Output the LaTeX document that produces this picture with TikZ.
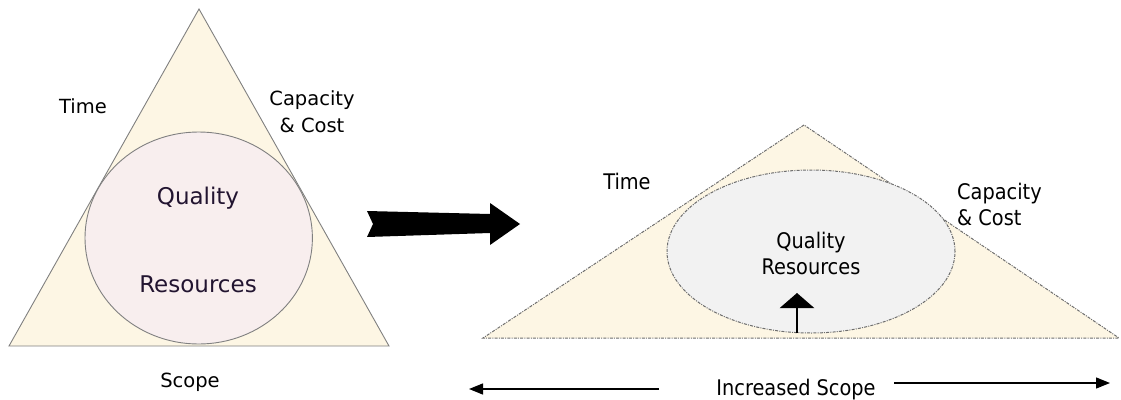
\documentclass[tikz,border=0pt]{standalone}
\usepackage{fontspec}
\setmainfont{DejaVu Sans}
\newfontfamily\condfont{DejaVu Sans Condensed}
\usetikzlibrary{arrows.meta}

\definecolor{cream}{RGB}{253,246,228}
\definecolor{blush}{RGB}{248,238,238}
\definecolor{mist}{RGB}{242,242,242}
\definecolor{edgegray}{RGB}{128,128,128}
\definecolor{dotgray}{RGB}{110,110,110}
\definecolor{ink}{RGB}{34,20,48}

\tikzset{
    solidedge/.style={draw=edgegray, line width=0.9pt},
    dashdot/.style={draw=dotgray, line width=1pt,
        dash pattern=on 3pt off 1.2pt on 1pt off 1.2pt},
    leftlabel/.style={font=\fontsize{19.5}{27}\selectfont, align=center, inner sep=0pt},
    innerlabel/.style={font=\fontsize{23}{27}\selectfont, text=ink, inner sep=0pt},
    rightlabel/.style={font=\condfont\fontsize{21.5}{26}\selectfont, inner sep=0pt},
}

\begin{document}
\begin{tikzpicture}[x=1pt, y=-1pt]
    \useasboundingbox (0,0) rectangle (1121,399);

    % the fixed triangle
    \coordinate (Ltop) at (199,9);
    \coordinate (Lleft) at (9,346);
    \coordinate (Lright) at (389,346);
    \fill[cream] (Ltop) -- (Lleft) -- (Lright) -- cycle;
    \draw[solidedge] (Ltop) -- (Lleft) -- (Lright) -- cycle;
    \filldraw[fill=blush, solidedge] (198.7,238) ellipse (113.7pt and 106pt);

    \node[leftlabel, anchor=base] (timeL) at (83,113) {Time};
    \node[leftlabel] (costL) at (312,112) {Capacity\\\& Cost};
    \node[leftlabel, anchor=base] (scopeL) at (190,387) {Scope};
    \node[innerlabel, anchor=base] (qualityL) at (198,204) {Quality};
    \node[innerlabel, anchor=base] (resourcesL) at (198,292) {Resources};

    % the big arrow between the two
    \fill (367,211) -- (490,214) -- (490,203) -- (520,224)
        -- (490,245) -- (490,233) -- (367,237) -- (373,224) -- cycle;

    % the stretched triangle
    \coordinate (Rtop) at (804,125);
    \coordinate (Rleft) at (483,338);
    \coordinate (Rright) at (1119,338);
    \fill[cream] (Rtop) -- (Rleft) -- (Rright) -- cycle;
    \draw[dashdot] (Rtop) -- (Rleft) -- (Rright) -- cycle;
    \filldraw[fill=mist, dashdot] (811,251.5) ellipse (144pt and 81.5pt);

    \node[rightlabel, anchor=base] (timeR) at (627,189) {Time};
    \node[rightlabel, anchor=west, align=left] (costR) at (957,204) {Capacity\\\& Cost};
    \node[rightlabel, align=center] (qualityR) at (811,253) {Quality\\Resources};

    \coordinate (liftfoot) at (797,333);
    \coordinate (lifttip) at (797,293);
    \draw[line width=2.6pt, -{Triangle[length=15pt, width=34pt]}] (liftfoot) -- (lifttip);

    % increased scope
    \node[rightlabel, anchor=base] (scopeR) at (796,395) {Increased Scope};
    \coordinate (leftend) at (469,389);
    \coordinate (rightend) at (1110,383);
    \draw[line width=1.3pt, -{Triangle[length=14pt, width=11pt]}] (659,389) -- (leftend);
    \draw[line width=1.3pt, -{Triangle[length=14pt, width=11pt]}] (894,383) -- (rightend);
\end{tikzpicture}
\end{document}
